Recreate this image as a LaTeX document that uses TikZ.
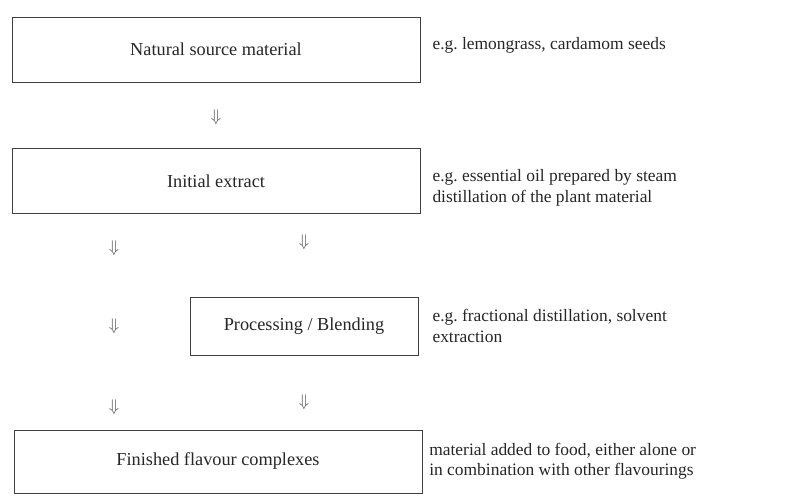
\documentclass[tikz,border=0pt]{standalone}
\usepackage{fontspec}
\setmainfont{Liberation Serif}
\usepackage{xcolor}
\usepackage{tikz}
\usetikzlibrary{positioning}
\tikzset{
	box/.style={draw=black!75, line width=0.5pt, minimum width=10.2cm, minimum height=1.63cm, text=black!85, font=\fontsize{13}{15}\selectfont}, % the main boxes
	smallbox/.style={box, minimum width=5.7cm, minimum height=1.45cm}, % the processing box
	note/.style={anchor=west, align=left, text=black!85, font=\fontsize{12.4}{14.5}\selectfont}, % the remarks on the right
	down/.style={text=black!70, font=\fontsize{12}{14}\selectfont}, % the arrow glyphs
}

\begin{document}
\begin{tikzpicture}[node distance=2cm, on grid]
			\useasboundingbox (-5.4,1.2375) rectangle (14.6,-11.3375);
			% Boxes
			\node[box] (source) {Natural source material};
			\node[box, below=3.29cm of source] (extract) {Initial extract};
			\node[smallbox, below right=3.62cm and 2.2cm of extract] (blend) {Processing / Blending};
			\node[box, below=7.01cm of extract, xshift=0.05cm, minimum height=1.58cm] (finished) {Finished flavour complexes};
			
			% Arrows
			\node[down, below=1.69cm of source] (d0) {$\Downarrow$};
			\node[down, left=4.75cm of blend] (l2) {$\Downarrow$};
			\node[down, above=1.95cm of l2] (l1) {$\Downarrow$};
			\node[down, below=2.03cm of l2] (l3) {$\Downarrow$};
			\node[down, above=2.08cm of blend] (r1) {$\Downarrow$};
			\node[down, below=1.92cm of blend] (r3) {$\Downarrow$};
			
			% Remarks
			\node[note, right=0.18cm of source.east, anchor=west, yshift=0.1cm] (n0) {e.g.\ lemongrass, cardamom seeds};
			\node[note, right=0.18cm of extract.east, anchor=west, yshift=-0.17cm] (n1) {e.g.\ essential oil prepared by steam\\distillation of the plant material};
			\node[note, right=0.23cm of blend.east, anchor=west] (n2) {e.g.\ fractional distillation, solvent\\extraction};
			\node[note, right=0.05cm of finished.east, anchor=west] (n3) {material added to food, either alone or\\in combination with other flavourings};
		\end{tikzpicture}
\end{document}
